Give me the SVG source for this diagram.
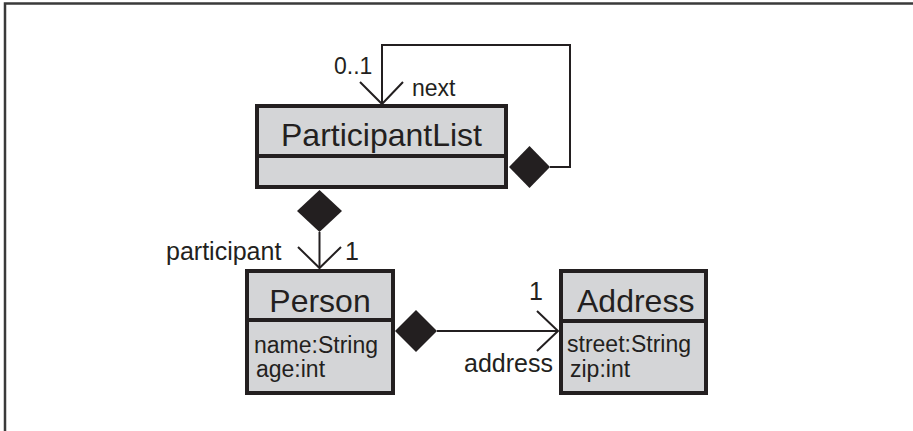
<svg xmlns="http://www.w3.org/2000/svg" width="913" height="431" viewBox="0 0 913 431">
  <defs>
    <style>
      .frame { fill: none; stroke: #3a3a3a; stroke-width: 2.5; }
      .box { fill: #d4d5d7; stroke: #231f20; stroke-width: 4; }
      .div { stroke: #231f20; stroke-width: 4; }
      .line { fill: none; stroke: #231f20; stroke-width: 2; }
      .dia { fill: #231f20; stroke: none; }
      .name { font-family: "Liberation Sans", Arial, sans-serif; font-size: 32px; fill: #231f20; }
      .attr { font-family: "Liberation Sans", Arial, sans-serif; font-size: 23px; fill: #231f20; }
      .lbl { font-family: "Liberation Sans", Arial, sans-serif; font-size: 23px; fill: #231f20; }
      .lbl2 { font-family: "Liberation Sans", Arial, sans-serif; font-size: 25px; fill: #231f20; }
    </style>
  </defs>
  <rect width="913" height="431" fill="#ffffff"/>
  <path class="frame" d="M5,431 V3.5 H913"/>

  <g id="connectors">
    <!-- self loop next -->
    <path class="line" d="M550,167 H570 V45 H382 V104"/>
    <polygon class="dia" points="509,167 529.5,146 550,167 529.5,188"/>
    <path class="line" d="M360,82 L382,104 L403,82"/>
    <text class="lbl" x="334" y="74">0..1</text>
    <text class="lbl" x="412" y="96">next</text>

    <!-- participant -->
    <polygon class="dia" points="297,211 319.5,190 342,211 319.5,232"/>
    <path class="line" d="M319.5,232 V268"/>
    <path class="line" d="M298,247 L319.5,268 L341,247"/>
    <text class="lbl2" x="166" y="260">participant</text>
    <text class="lbl2" x="345" y="260">1</text>

    <!-- address -->
    <polygon class="dia" points="395,331 416,310 437,331 416,352"/>
    <path class="line" d="M437,331 H558"/>
    <path class="line" d="M537,311 L558,331 L537,351"/>
    <text class="lbl2" x="529" y="300">1</text>
    <text class="lbl2" x="464" y="372">address</text>
  </g>

  <g id="ParticipantList">
    <rect class="box" x="257" y="106" width="249" height="81"/>
    <line class="div" x1="257" y1="156" x2="506" y2="156"/>
    <text class="name" x="381.5" y="146" text-anchor="middle">ParticipantList</text>
  </g>

  <g id="Person">
    <rect class="box" x="247" y="271" width="146" height="122"/>
    <line class="div" x1="247" y1="320" x2="393" y2="320"/>
    <text class="name" x="320" y="312" text-anchor="middle">Person</text>
    <text class="attr" x="254" y="353">name:String</text>
    <text class="attr" x="256" y="377">age:int</text>
  </g>

  <g id="Address">
    <rect class="box" x="561" y="271" width="145" height="122"/>
    <line class="div" x1="561" y1="321" x2="706" y2="321"/>
    <text class="name" x="577" y="312">Address</text>
    <text class="attr" x="567" y="352">street:String</text>
    <text class="attr" x="570" y="377">zip:int</text>
  </g>
</svg>
